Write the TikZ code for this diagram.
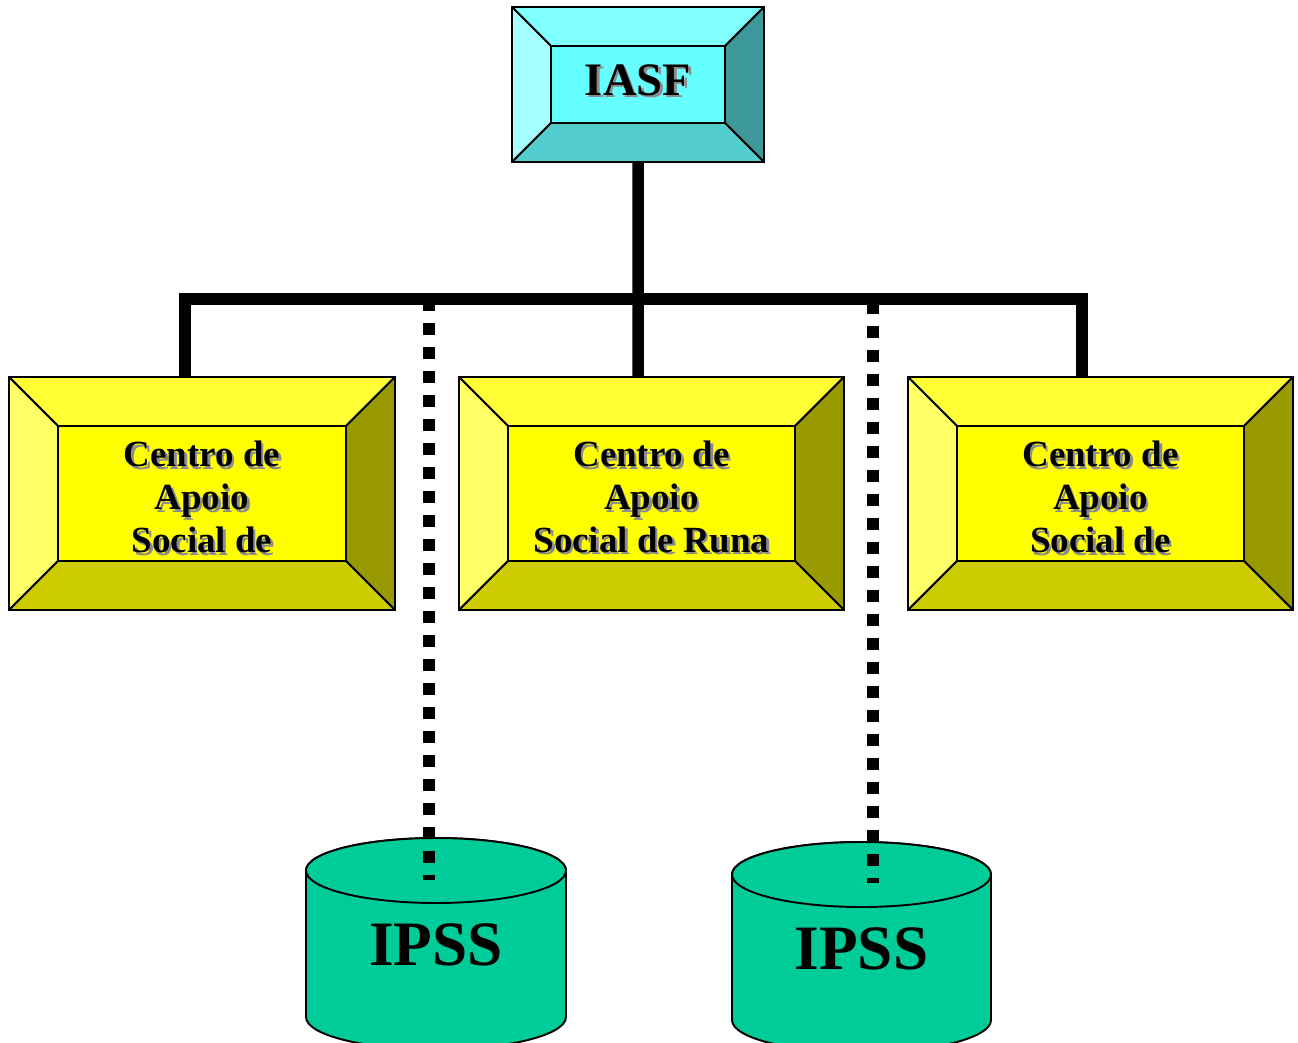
\documentclass[tikz,border=0pt]{standalone}
\usepackage{fontspec}
\setmainfont{Liberation Serif}
\usetikzlibrary{calc}
\definecolor{cyT}{HTML}{80FFFF}
\definecolor{cyL}{HTML}{A6FFFF}
\definecolor{cyR}{HTML}{3D9999}
\definecolor{cyB}{HTML}{52CCCC}
\definecolor{cyF}{HTML}{66FFFF}
\definecolor{yeT}{HTML}{FFFF33}
\definecolor{yeL}{HTML}{FFFF66}
\definecolor{yeR}{HTML}{999900}
\definecolor{yeB}{HTML}{CCCC00}
\definecolor{yeF}{HTML}{FFFF00}
\definecolor{cylG}{HTML}{00CC99}
\definecolor{shad}{HTML}{8C8C8C}
\tikzset{
  bev/.style={draw=black, line width=1.1pt, line join=round},
  bus/.style={line width=0.23cm, line join=miter, line cap=butt},
  dotline/.style={line width=0.23cm, dash pattern=on 0.24cm off 0.24cm},
  cyl/.style={fill=cylG, draw=black, line width=1.1pt},
  iasftext/.style={inner sep=0pt, font=\bfseries\fontsize{26.5}{30}\selectfont},
  cstext/.style={inner sep=0pt, align=center, font=\bfseries\fontsize{21}{24.4}\selectfont},
  ipss/.style={inner sep=0pt, font=\bfseries\fontsize{36}{40}\selectfont},
}
\newcommand\bevelbox[7]{%
  \node[inner sep=0pt, outer sep=0pt, minimum width={(#4-#2)*0.02cm}, minimum height={(#5-#3)*0.02cm}] (#1) at ({(#2+#4)/2},{(#3+#5)/2}) {};
  \coordinate (#1-onw) at (#2,#3);
  \coordinate (#1-one) at (#4,#3);
  \coordinate (#1-ose) at (#4,#5);
  \coordinate (#1-osw) at (#2,#5);
  \coordinate (#1-inw) at (#2+#6,#3+#6);
  \coordinate (#1-ine) at (#4-#6,#3+#6);
  \coordinate (#1-ise) at (#4-#6,#5-#6);
  \coordinate (#1-isw) at (#2+#6,#5-#6);
  \filldraw[bev, fill=#7T] (#1-onw) -- (#1-one) -- (#1-ine) -- (#1-inw) -- cycle;
  \filldraw[bev, fill=#7L] (#1-onw) -- (#1-inw) -- (#1-isw) -- (#1-osw) -- cycle;
  \filldraw[bev, fill=#7R] (#1-one) -- (#1-ose) -- (#1-ise) -- (#1-ine) -- cycle;
  \filldraw[bev, fill=#7B] (#1-osw) -- (#1-isw) -- (#1-ise) -- (#1-ose) -- cycle;
  \node[bev, fill=#7F, inner sep=0pt, outer sep=0pt, minimum width={(#4-#2-2*#6)*0.02cm}, minimum height={(#5-#3-2*#6)*0.02cm}] (#1-face) at ({(#2+#4)/2},{(#3+#5)/2}) {};
  \draw[bev] (#1.north west) rectangle (#1.south east);
}
\newcommand\shlabel[5]{%
  \node[#4, text=shad] at ([shift={(2.5,#3+2.5)}]#2.center) {#5};
  \node[#4] (#1) at ([shift={(0,#3)}]#2.center) {#5};
}
\newcommand\ipsscyl[6]{%
  \filldraw[cyl] (#2-#4,#3) -- (#2-#4,#5) arc[start angle=180, end angle=0, x radius=#4, y radius=32.5] -- (#2+#4,#3) arc[start angle=0, end angle=-180, x radius=#4, y radius=32.5] -- cycle;
  \draw[cyl] (#2,#3) ellipse[x radius=#4, y radius=32.5];
  \node[ipss] (#1) at (#2,#3+#6) {IPSS};
}
\begin{document}
\begin{tikzpicture}[x=0.02cm, y=-0.02cm]
\useasboundingbox (0,0) rectangle (1298,1042);
% boxes (outer nodes first, for connector anchors)
\bevelbox{iasf}{512}{7}{764}{162}{39}{cy}
\bevelbox{csl}{9}{377}{395}{610}{49}{ye}
\bevelbox{csm}{459}{377}{844}{610}{49}{ye}
\bevelbox{csr}{908}{377}{1293}{610}{49}{ye}
% solid connectors
\coordinate (bus) at (638,299);
\path ($(csl.north west)!0.456!(csl.north east)$) coordinate (jl)
      ($(csm.north west)!0.465!(csm.north east)$) coordinate (jm)
      ($(csr.north west)!0.452!(csr.north east)$) coordinate (jr);
\draw[bus] (iasf.south) -- (jm);
\draw[bus] (jl) -- (jl |- bus) -- (jr |- bus) -- (jr);
% redraw box borders over connector ends
\draw[bev] (csl.north west) -- (csl.north east);
\draw[bev] (csm.north west) -- (csm.north east);
\draw[bev] (csr.north west) -- (csr.north east);
\draw[bev] (iasf.south west) -- (iasf.south east);
% labels
\shlabel{iasf-t}{iasf-face}{-4.5}{iasftext}{IASF}
\shlabel{csl-t}{csl-face}{3.5}{cstext}{Centro de\\Apoio\\Social de}
\shlabel{csm-t}{csm-face}{3.5}{cstext}{Centro de\\Apoio\\Social de Runa}
\shlabel{csr-t}{csr-face}{3.5}{cstext}{Centro de\\Apoio\\Social de}
% cylinders
\ipsscyl{ipssL}{436}{870.5}{130}{1017}{74.5}
\ipsscyl{ipssR}{861.5}{874.5}{129.5}{1020}{74}
% dotted connectors
\coordinate (tapL) at (429,299);
\coordinate (tapR) at (873,302);
\coordinate (ipssL-in) at (429,880);
\coordinate (ipssR-in) at (873,883);
\draw[dotline] (tapL) -- (ipssL-in);
\draw[dotline] (tapR) -- (ipssR-in);
\end{tikzpicture}
\end{document}
